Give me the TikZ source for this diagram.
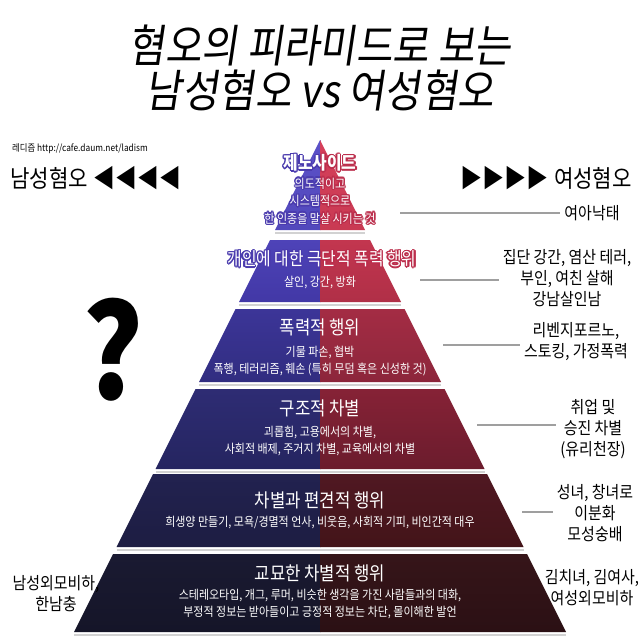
\documentclass[tikz,border=0pt]{standalone}
\usepackage{fontspec}
\setmainfont{Noto Sans CJK KR}[FakeStretch=0.88]
\newfontfamily\titlefont{Noto Sans CJK KR}[FakeStretch=0.88,FakeSlant=0.15]

\definecolor{la1}{HTML}{5C51C8}\definecolor{lb1}{HTML}{5249BC}
\definecolor{ra1}{HTML}{D6405B}\definecolor{rb1}{HTML}{C93A53}
\definecolor{la2}{HTML}{4E43B8}\definecolor{lb2}{HTML}{4238A6}
\definecolor{ra2}{HTML}{C3364F}\definecolor{rb2}{HTML}{B02F47}
\definecolor{la3}{HTML}{3C3598}\definecolor{lb3}{HTML}{312D80}
\definecolor{ra3}{HTML}{A42C44}\definecolor{rb3}{HTML}{8C263B}
\definecolor{la4}{HTML}{2E2C74}\definecolor{lb4}{HTML}{252560}
\definecolor{ra4}{HTML}{862236}\definecolor{rb4}{HTML}{6B1C2D}
\definecolor{la5}{HTML}{222250}\definecolor{lb5}{HTML}{1D1D42}
\definecolor{ra5}{HTML}{501822}\definecolor{rb5}{HTML}{431419}
\definecolor{la6}{HTML}{1A1A32}\definecolor{lb6}{HTML}{151528}
\definecolor{ra6}{HTML}{361519}\definecolor{rb6}{HTML}{2B1014}
\definecolor{outblue}{HTML}{4A3BAE}
\definecolor{outred}{HTML}{BC2E4C}

% 테두리 있는 흰 글씨 (왼쪽 파랑, 오른쪽 빨강)
\newcommand{\outlined}[4]{%
    \begin{scope}
        \clip (0,0) rectangle (320,640);
        \foreach \a in {0,30,...,330}
            \node[#3, text=outblue, shift={(\a:1.4)}] (#1-b\a) at (#2) {#4};
    \end{scope}
    \begin{scope}
        \clip (320,0) rectangle (640,640);
        \foreach \a in {0,30,...,330}
            \node[#3, text=outred, shift={(\a:1.4)}] (#1-r\a) at (#2) {#4};
    \end{scope}
    \node[#3] (#1) at (#2) {#4};
}

\begin{document}
\begin{tikzpicture}[x=1pt, y=-1pt,
        title/.style={font=\titlefont\fontsize{45}{50}\selectfont},
        head/.style={text=white, font=\fontsize{19}{21}\selectfont, inner sep=0pt},
        body/.style={text=white, align=center, font=\fontsize{12.5}{17.5}\selectfont, inner sep=0pt},
        side/.style={align=center, font=\fontsize{17}{21}\selectfont, inner sep=4pt},
        conn/.style={draw=gray!75, line width=1.2pt}
    ]
        \useasboundingbox (0,0) rectangle (640,640);
        \fill[white] (0,0) rectangle (640,640);

        % 제목
        \node[title] (title1) at (320,45) {혐오의 피라미드로 보는};
        \node[title] (title2) at (320,90) {남성혐오 vs 여성혐오};

        % 머리글
        \node[anchor=west, font=\fontsize{9.5}{11}\selectfont, inner sep=0pt] (src) at (12,149) {레디즘 http://cafe.daum.net/ladism};
        \node[anchor=west, font=\fontsize{24}{26}\selectfont, inner sep=0pt] (male) at (10,178) {남성혐오\hspace{6pt}{\fontsize{25}{26}\selectfont◀◀◀◀}};
        \node[anchor=east, font=\fontsize{24}{26}\selectfont, inner sep=0pt] (female) at (632,178) {{\fontsize{25}{26}\selectfont▶▶▶▶}\hspace{6pt}여성혐오};
        \node[font=\bfseries\fontsize{130}{130}\selectfont] (qmark) at (113,350) {?};

        % 피라미드 층
        \foreach \yt/\yb/\n in {140/230/1, 240/302/2, 309/382/3, 389/469/4, 474/547/5, 554/632/6}{
            \pgfmathsetmacro{\wt}{0.5*(\yt-140)}
            \pgfmathsetmacro{\wb}{0.5*(\yb-140)}
            \shade[top color=la\n, bottom color=lb\n] (320-\wt,\yt) -- (320.5,\yt) -- (320.5,\yb) -- (320-\wb,\yb) -- cycle;
            \shade[top color=ra\n, bottom color=rb\n] (320,\yt) -- (320+\wt,\yt) -- (320+\wb,\yb) -- (320,\yb) -- cycle;
            \draw[gray!35, line width=1.4pt] (320-\wb,\yb+3) -- (320+\wb,\yb+3);
        }

        % 층 안의 글
        \outlined{geno}{320,163}{head, font=\bfseries\fontsize{18}{20}\selectfont}{제노사이드}
        \outlined{genotxt}{320,201}{body}{의도적이고\\시스템적으로\\한 인종을 말살 시키는 것}
        \outlined{extreme}{322,259}{head, font=\fontsize{18}{20}\selectfont}{개인에 대한 극단적 폭력 행위}
        \node[body] (extremetxt) at (320,283) {살인, 강간, 방화};
        \node[head] (violent) at (320,327) {폭력적 행위};
        \node[body] (violenttxt) at (320,361) {기물 파손, 협박\\폭행, 테러리즘, 훼손 (특히 무덤 혹은 신성한 것)};
        \node[head] (struct) at (320,408) {구조적 차별};
        \node[body] (structtxt) at (320,441) {괴롭힘, 고용에서의 차별,\\사회적 배제, 주거지 차별, 교육에서의 차별};
        \node[head] (prej) at (320,500) {차별과 편견적 행위};
        \node[body] (prejtxt) at (320,523) {희생양 만들기, 모욕/경멸적 언사, 비웃음, 사회적 기피, 비인간적 대우};
        \node[head] (subtle) at (320,573) {교묘한 차별적 행위};
        \node[body] (subtletxt) at (320,604) {스테레오타입, 개그, 루머, 비슷한 생각을 가진 사람들과의 대화,\\부정적 정보는 받아들이고 긍정적 정보는 차단, 몰이해한 발언};

        % 여성혐오 예
        \node[side] (abort) at (592,213) {여아낙태};
        \node[side] (gang) at (567,278) {집단 강간, 염산 테러,\\부인, 여친 살해\\강남살인남};
        \node[side] (porn) at (576,342) {리벤지포르노,\\스토킹, 가정폭력};
        \node[side] (job) at (593,429) {취업 및\\승진 차별\\(유리천장)};
        \node[side] (madonna) at (595,513) {성녀, 창녀로\\이분화\\모성숭배};
        \node[side] (kimchi) at (592,588) {김치녀, 김여사,\\여성외모비하};

        % 남성혐오 예
        \node[side] (looks) at (56,594) {남성외모비하,\\한남충};

        % 연결선
        \coordinate (s1) at (400,213);
        \coordinate (s2) at (420,280);
        \coordinate (s3) at (443,345);
        \coordinate (s4) at (477,425);
        \coordinate (s5) at (522,512);
        \draw[conn] (s1) -- (s1 -| abort.west);
        \draw[conn] (s2) -- (s2 -| gang.west);
        \draw[conn] (s3) -- (s3 -| porn.west);
        \draw[conn] (s4) -- (s4 -| job.west);
        \draw[conn] (s5) -- (s5 -| madonna.west);

    \end{tikzpicture}
\end{document}
